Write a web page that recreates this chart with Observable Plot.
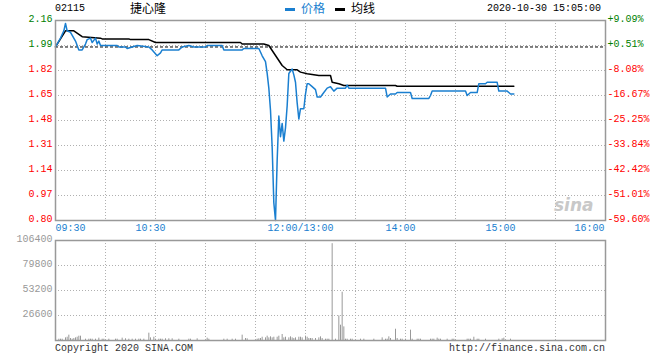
<!DOCTYPE html>
<html><head><meta charset="utf-8">
<script src="https://cdn.jsdelivr.net/npm/d3@7"></script>
<script src="https://cdn.jsdelivr.net/npm/@observablehq/plot@0.6"></script>
<style>
body{margin:0;background:#fff;}
#wrap{position:relative;width:660px;height:360px;overflow:hidden;font-family:"Liberation Mono","DejaVu Sans Mono",monospace;font-size:10px;}
.abs{position:absolute;white-space:nowrap;line-height:12px;}
.cjk{font-family:"Noto Sans CJK SC",sans-serif;font-size:12px;}
#p1,#p2{position:absolute;left:0;}
</style></head><body><div id="wrap">
<div id="p1" style="top:0"></div>
<div id="p2" style="top:230px"></div>
</div>
<script>
const stockCode = "02115";
const stockName = "捷心隆";
const stamp = "2020-10-30 15:05:00";
const legendNames = ["价格", "均线"];
const copyright = "Copyright 2020 SINA.COM";
const siteUrl = "http://finance.sina.com.cn";
const prevClose = 1.98;
const priceTicks = [2.16, 1.99, 1.82, 1.65, 1.48, 1.31, 1.14, 0.97, 0.80];
const pctLabels = ["+9.09%", "+0.51%", "-8.08%", "-16.67%", "-25.25%", "-33.84%", "-42.42%", "-51.01%", "-59.60%"];
const timeTicks = [0, 60, 150, 210, 270, 330];
const timeLabels = ["09:30", "10:30", "12:00/13:00", "14:00", "15:00", "16:00"];
const gridMinutes = [30, 60, 90, 120, 150, 180, 210, 240, 270, 300];
const volTicks = [106400, 79800, 53200, 26600];

const priceMin = [0,3,5,6,7,9,12,14,16,18,19,21,22,24,25,26,27,37,38,42,43,46,49,56,58,61,63,64,74,76,80,83,90,91,100,101,112,113,122,124,126,127,128,129,130,131,132,133,134,135,136,137,138,139,140,142,143,144,145,146,147,149,150,151,152,154,156,157,159,161,163,165,167,169,174,175,176,198,199,201,204,205,213,214,224,225,226,246,247,248,249,253,254,258,259,265,266,271,272,273,275];
const priceVal = [1.98,2.04,2.09,2.14,2.09,2.08,2.02,1.96,1.96,2.00,2.03,2.04,2.01,2.04,2.00,2.02,1.99,1.99,1.98,1.98,1.97,1.98,1.99,1.98,1.96,1.92,1.94,1.96,1.96,1.98,1.99,1.98,1.98,1.99,1.99,1.96,1.96,1.97,1.97,1.92,1.88,1.80,1.70,1.55,1.30,0.92,0.80,1.21,1.51,1.37,1.46,1.34,1.43,1.58,1.80,1.83,1.79,1.74,1.60,1.49,1.56,1.56,1.66,1.73,1.73,1.71,1.69,1.64,1.64,1.67,1.70,1.71,1.68,1.70,1.70,1.72,1.70,1.70,1.64,1.66,1.66,1.67,1.67,1.63,1.63,1.65,1.68,1.68,1.65,1.66,1.67,1.67,1.73,1.73,1.74,1.74,1.68,1.68,1.67,1.66,1.66];

const avgMin = [0,6,11,16,27,28,44,45,56,60,111,112,125,128,130,132,134,136,139,145,147,151,158,165,166,170,173,204,205,275];
const avgVal = [1.98,2.09,2.09,2.05,2.04,2.035,2.035,2.03,2.03,2.01,2.01,2.00,2.00,1.99,1.956,1.922,1.888,1.854,1.825,1.825,1.809,1.798,1.786,1.786,1.74,1.73,1.718,1.718,1.713,1.713];

const volMin = [2,3,4,6,7,8,9,10,11,12,13,14,15,18,20,21,22,24,26,28,29,32,36,37,40,42,44,46,48,50,51,53,56,57,59,60,62,63,64,66,68,70,74,80,81,85,91,92,101,103,106,108,112,114,115,121,122,123,124,126,127,128,129,130,131,133,134,136,137,138,140,141,142,143,144,146,147,148,150,151,152,153,154,156,158,159,160,162,163,164,166,168,170,171,172,173,174,175,177,178,183,185,191,196,198,199,200,201,204,205,207,208,210,213,214,217,218,219,225,226,227,229,230,231,235,238,239,247,248,249,251,253,254,258,266,268,269,273];
const volVal = [1400,1400,1400,2800,3500,5700,2100,1400,2100,2800,3500,4600,4600,1400,1400,1400,1400,1400,2500,1400,1400,1400,1400,1400,2500,1800,1400,1400,1400,1400,1400,1400,7800,2800,3500,1400,1400,1400,1400,1800,1800,1800,1400,1400,1400,1800,2500,1400,1400,1400,1400,1400,5700,2100,1800,1400,1800,2100,3500,2800,4600,2800,3900,2800,3500,3500,4600,6400,2800,3500,2800,3900,2800,2100,2800,3500,3500,2800,4600,3500,2100,2100,2100,2100,2800,3900,2100,1400,1400,1400,103000,1400,26200,16300,51400,14500,1400,1400,1400,1400,1400,1400,1400,2800,1400,1400,3900,2100,12000,2100,1400,1400,1400,11000,1400,1400,1400,1400,1400,1400,1400,2500,1400,1400,1400,1400,1400,1400,1400,1400,3500,1400,1400,1400,1400,1800,2500,1400];

const BLUE = "#1a7fd0", GREEN = "#008000", RED = "#ff0000", GRID = "#b0b0b0", FRAME = "#999999";
const FONT = '"Liberation Mono","DejaVu Sans Mono",monospace';

const price = priceMin.map((m, i) => ({m, p: priceVal[i]}));
const avg = avgMin.map((m, i) => ({m, p: avgVal[i]}));
const vol = volMin.map((m, i) => ({m, v: volVal[i]}));
const pt = priceTicks.map((v, i) => ({v, pct: pctLabels[i], up: v >= prevClose}));
const tt = timeTicks.map((m, i) => ({m, label: timeLabels[i], i}));
const n = tt.length;

const p1 = Plot.plot({
  width: 660, height: 240, marginLeft: 55, marginRight: 55, marginTop: 20, marginBottom: 20,
  x: {domain: [0, 330], axis: null},
  y: {domain: [0.80, 2.16], axis: null},
  style: {fontFamily: FONT, fontSize: "10px", background: "transparent", overflow: "visible"},
  marks: [
    Plot.ruleY(priceTicks.slice(1, -1), {stroke: GRID, strokeDasharray: "1,2"}),
    Plot.ruleX(gridMinutes, {stroke: GRID, strokeDasharray: "1,2"}),
    Plot.ruleY([prevClose], {stroke: "#000", strokeDasharray: "3,2"}),
    Plot.line(avg, {x: "m", y: "p", stroke: "#000", strokeWidth: 1.5}),
    Plot.line(price, {x: "m", y: "p", stroke: BLUE, strokeWidth: 1.5}),
    Plot.frame({stroke: FRAME, strokeWidth: 1.5}),
    Plot.text(pt.filter(d => d.up), {y: "v", text: d => d.v.toFixed(2), frameAnchor: "left", textAnchor: "end", lineAnchor: "bottom", dx: -3, dy: 1, fill: GREEN}),
    Plot.text(pt.filter(d => !d.up), {y: "v", text: d => d.v.toFixed(2), frameAnchor: "left", textAnchor: "end", lineAnchor: "bottom", dx: -3, dy: 1, fill: RED}),
    Plot.text(pt.filter(d => d.up), {y: "v", text: "pct", frameAnchor: "right", textAnchor: "start", lineAnchor: "bottom", dx: 2, dy: 1, fill: GREEN}),
    Plot.text(pt.filter(d => !d.up), {y: "v", text: "pct", frameAnchor: "right", textAnchor: "start", lineAnchor: "bottom", dx: 2, dy: 1, fill: RED}),
    Plot.text(tt.filter(d => d.i === 0), {x: "m", text: "label", frameAnchor: "bottom", textAnchor: "start", lineAnchor: "top", dy: 3, fill: BLUE}),
    Plot.text(tt.filter(d => d.i > 0 && d.i < n - 1), {x: "m", text: "label", frameAnchor: "bottom", textAnchor: "middle", lineAnchor: "top", dy: 3, dx: -5, fill: BLUE}),
    Plot.text(tt.filter(d => d.i === n - 1), {x: "m", text: "label", frameAnchor: "bottom", textAnchor: "end", lineAnchor: "top", dy: 3, dx: -1, fill: BLUE}),
    Plot.text(["sina"], {frameAnchor: "bottom-right", textAnchor: "end", dx: -12, dy: -10, fill: "#c8c8c8", fontSize: 17, fontWeight: "bold", fontStyle: "italic", fontFamily: "DejaVu Sans"})
  ]
});
document.getElementById("p1").appendChild(p1);

const p2 = Plot.plot({
  width: 660, height: 120, marginLeft: 55, marginRight: 55, marginTop: 10, marginBottom: 10,
  x: {domain: [0, 330], axis: null},
  y: {domain: [0, 106400], axis: null},
  style: {fontFamily: FONT, fontSize: "10px", background: "transparent", overflow: "visible"},
  marks: [
    Plot.ruleY(volTicks.slice(1), {stroke: GRID, strokeDasharray: "1,2"}),
    Plot.ruleX(gridMinutes, {stroke: GRID, strokeDasharray: "1,2"}),
    Plot.ruleX(vol, {x: "m", y1: d => 0, y2: "v", stroke: "#999", strokeWidth: 1}),
    Plot.frame({stroke: FRAME, strokeWidth: 1.5}),
    Plot.text(volTicks, {y: d => d, text: d => String(d), frameAnchor: "left", textAnchor: "end", lineAnchor: "bottom", dx: -3, dy: 1, fill: "#999"})
  ]
});
document.getElementById("p2").appendChild(p2);

const wrap = document.getElementById("wrap");
function add(html, style, cls) {
  const d = document.createElement("div");
  d.className = "abs " + (cls || "");
  d.innerHTML = html;
  Object.assign(d.style, style);
  wrap.appendChild(d);
}
add(stockCode, {left: "55px", top: "3px", color: "#000"});
add(stockName, {left: "130px", top: "2px", color: "#000"}, "cjk");
add('<span style="display:inline-block;width:10px;height:3px;background:' + BLUE + ';vertical-align:middle;margin-right:6px"></span>' + legendNames[0], {left: "285px", top: "2px", color: BLUE}, "cjk");
add('<span style="display:inline-block;width:10px;height:3px;background:#000;vertical-align:middle;margin-right:6px"></span>' + legendNames[1], {left: "335px", top: "2px", color: "#000"}, "cjk");
add(stamp, {left: "487px", top: "3px", color: "#000"});
add(copyright, {left: "55px", top: "343px", color: "#333"});
add(siteUrl, {right: "55px", top: "343px", color: "#333"});
</script>
</body></html>
